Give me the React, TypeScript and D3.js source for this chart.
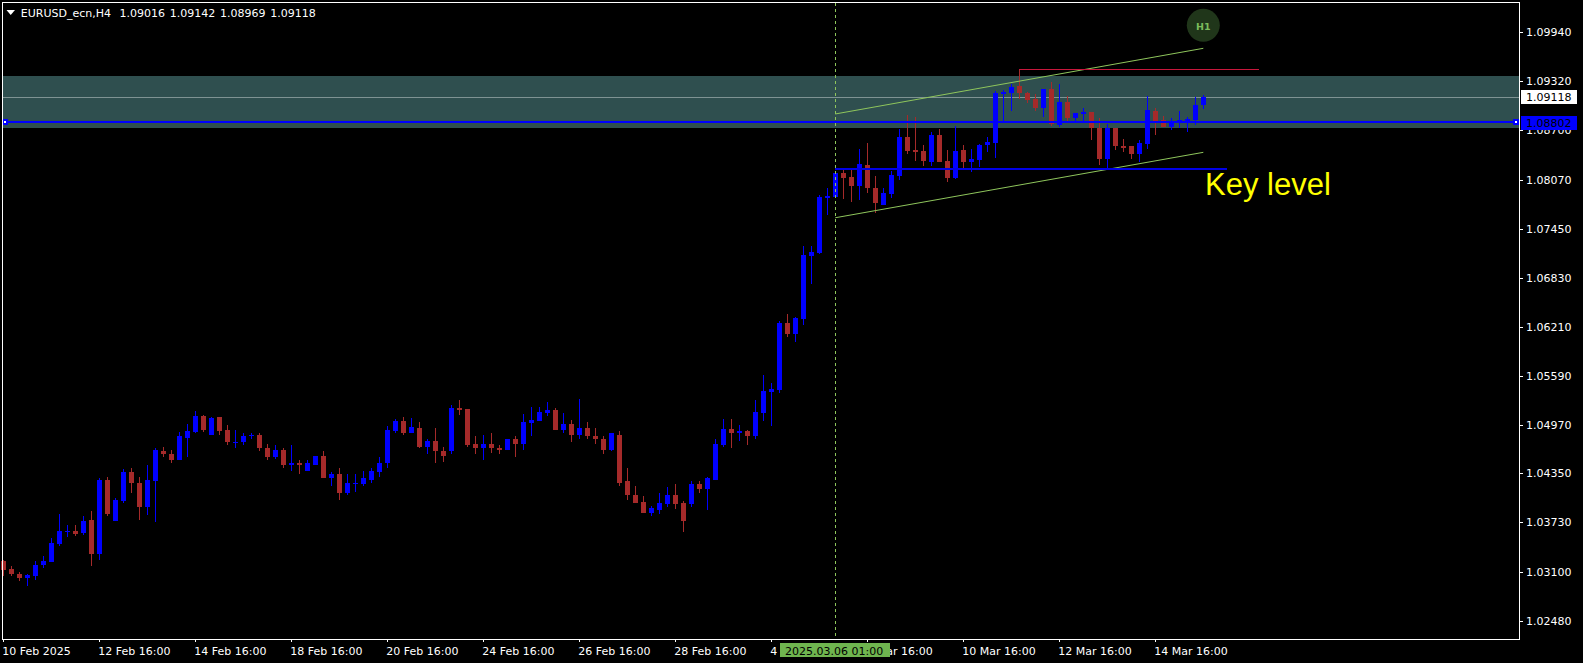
import React, { useEffect, useRef } from 'react';
import * as d3 from 'd3';

const opens = [
  1.03235,1.03134,1.03071,1.03020,1.03046,1.03185,1.03223,1.03451,1.03602,1.03615,
  1.03590,1.03754,1.03324,1.04273,1.03742,1.03995,1.04362,1.04235,1.03919,1.04248,
  1.04640,1.04602,1.04526,1.04805,1.04881,1.05083,1.04843,1.05071,1.04906,1.04742,
  1.04742,1.04818,1.04843,1.04678,1.04552,1.04653,1.04451,1.04476,1.04387,1.04463,
  1.04577,1.04286,1.04349,1.04096,1.04210,1.04210,1.04273,1.04362,1.04476,1.04893,
  1.05020,1.04868,1.04931,1.04691,1.04767,1.04640,1.04640,1.05185,1.05172,1.04729,
  1.04666,1.04729,1.04678,1.04653,1.04780,1.04729,1.04995,1.05020,1.05121,1.05159,
  1.04906,1.04982,1.04843,1.04931,1.04830,1.04792,1.04653,1.04843,1.04248,1.04083,
  1.03982,1.03843,1.03881,1.03957,1.04083,1.03970,1.03957,1.04210,1.04147,1.04273,
  1.04716,1.04919,1.04856,1.04893,1.04830,1.05121,1.05387,1.05412,1.06260,1.06121,
  1.06311,1.07109,1.07147,1.07843,1.07855,1.08159,1.08109,1.07995,1.08260,1.07969,
  1.07754,1.07893,1.08121,1.08615,1.08450,1.08438,1.08298,1.08640,1.08311,1.08096,
  1.08450,1.08298,1.08324,1.08514,1.08539,1.09159,1.09172,1.09260,1.09172,1.09096,
  1.08982,1.09222,1.08767,1.09058,1.08855,1.08906,1.08931,1.08729,1.08336,1.08729,
  1.08501,1.08501,1.08400,1.08526,1.08944,1.08830,1.08741,1.08805,1.08805,1.08830,
  1.09016,
];
const highs = [
  1.03248,1.03172,1.03096,1.03071,1.03235,1.03299,1.03527,1.03830,1.03695,1.03691,
  1.03805,1.03868,1.04286,1.04311,1.04033,1.04400,1.04413,1.04299,1.04463,1.04678,
  1.04691,1.04653,1.04881,1.04982,1.05147,1.05096,1.05071,1.05071,1.04969,1.04906,
  1.04856,1.04856,1.04868,1.04729,1.04704,1.04678,1.04704,1.04514,1.04514,1.04577,
  1.04628,1.04362,1.04425,1.04337,1.04337,1.04387,1.04425,1.04564,1.04957,1.05045,
  1.05071,1.05058,1.05007,1.04792,1.04931,1.04691,1.05223,1.05286,1.05172,1.04818,
  1.04843,1.04868,1.04704,1.04792,1.04818,1.05109,1.05197,1.05197,1.05261,1.05185,
  1.05121,1.05033,1.05299,1.05007,1.04931,1.04818,1.04856,1.04893,1.04425,1.04185,
  1.04058,1.03932,1.04096,1.04172,1.04210,1.03995,1.04248,1.04248,1.04299,1.04780,
  1.05045,1.05045,1.04969,1.04906,1.05286,1.05602,1.05501,1.06286,1.06374,1.06336,
  1.07235,1.07235,1.07881,1.07969,1.08159,1.08197,1.08197,1.08463,1.08539,1.08121,
  1.07969,1.08184,1.08716,1.08893,1.08868,1.08514,1.08678,1.08716,1.08450,1.08754,
  1.08514,1.08463,1.08526,1.08615,1.09197,1.09210,1.09286,1.09463,1.09184,1.09159,
  1.09222,1.09311,1.09286,1.09134,1.08919,1.08982,1.08931,1.08855,1.08779,1.08729,
  1.08590,1.08501,1.08577,1.09134,1.08982,1.08881,1.08855,1.08944,1.08868,1.09121,
  1.09142,
];
const lows = [
  1.03050,1.03050,1.02982,1.02919,1.02995,1.03147,1.03223,1.03425,1.03539,1.03552,
  1.03565,1.03172,1.03248,1.03805,1.03742,1.03970,1.04096,1.03754,1.03818,1.03729,
  1.04552,1.04476,1.04514,1.04564,1.04868,1.04881,1.04843,1.04843,1.04704,1.04666,
  1.04716,1.04792,1.04628,1.04526,1.04539,1.04413,1.04387,1.04349,1.04387,1.04451,
  1.04286,1.04185,1.04007,1.04083,1.04121,1.04197,1.04235,1.04311,1.04413,1.04856,
  1.04843,1.04856,1.04666,1.04590,1.04488,1.04501,1.04602,1.05096,1.04691,1.04602,
  1.04526,1.04615,1.04590,1.04653,1.04564,1.04653,1.04830,1.05020,1.05083,1.04906,
  1.04868,1.04742,1.04792,1.04780,1.04729,1.04590,1.04640,1.04197,1.04007,1.03970,
  1.03843,1.03805,1.03830,1.03919,1.03894,1.03602,1.03919,1.04096,1.03881,1.04273,
  1.04691,1.04666,1.04767,1.04704,1.04792,1.05020,1.04957,1.05374,1.06083,1.06020,
  1.06235,1.06754,1.07134,1.07628,1.07855,1.07830,1.07792,1.07817,1.07906,1.07653,
  1.07754,1.07843,1.08071,1.08400,1.08311,1.08248,1.08248,1.08298,1.08045,1.08083,
  1.08222,1.08172,1.08235,1.08425,1.08349,1.08817,1.08944,1.09096,1.09045,1.08944,
  1.08868,1.08754,1.08741,1.08805,1.08805,1.08805,1.08577,1.08260,1.08210,1.08450,
  1.08425,1.08336,1.08298,1.08463,1.08640,1.08741,1.08703,1.08729,1.08678,1.08767,
  1.08969,
];
const closes = [
  1.03121,1.03071,1.03020,1.03058,1.03185,1.03235,1.03463,1.03615,1.03615,1.03577,
  1.03742,1.03324,1.04273,1.03830,1.04007,1.04362,1.04223,1.03919,1.04261,1.04653,
  1.04590,1.04526,1.04818,1.04893,1.05083,1.04906,1.05058,1.04893,1.04742,1.04754,
  1.04830,1.04839,1.04666,1.04552,1.04653,1.04451,1.04476,1.04451,1.04476,1.04577,
  1.04286,1.04349,1.04096,1.04235,1.04223,1.04286,1.04375,1.04488,1.04906,1.05020,
  1.04868,1.04944,1.04691,1.04767,1.04628,1.04577,1.05185,1.05159,1.04716,1.04666,
  1.04729,1.04666,1.04653,1.04780,1.04729,1.05007,1.05033,1.05134,1.05159,1.04906,
  1.04982,1.04843,1.04931,1.04830,1.04780,1.04653,1.04856,1.04235,1.04071,1.03970,
  1.03843,1.03906,1.03970,1.04083,1.03957,1.03742,1.04210,1.04147,1.04286,1.04729,
  1.04919,1.04856,1.04893,1.04830,1.05134,1.05400,1.05425,1.06260,1.06121,1.06324,
  1.07121,1.07159,1.07855,1.07868,1.08159,1.08096,1.07995,1.08273,1.07969,1.07779,
  1.07906,1.08134,1.08615,1.08438,1.08425,1.08311,1.08640,1.08298,1.08096,1.08438,
  1.08298,1.08336,1.08514,1.08552,1.09172,1.09184,1.09248,1.09172,1.09083,1.08982,
  1.09222,1.08779,1.09058,1.08855,1.08919,1.08931,1.08729,1.08336,1.08729,1.08501,
  1.08476,1.08400,1.08539,1.08957,1.08817,1.08741,1.08817,1.08830,1.08843,1.09020,
  1.09118,
];

const priceTicks = [1.0994, 1.0932, 1.087, 1.0807, 1.0745, 1.0683, 1.0621, 1.0559, 1.0497, 1.0435, 1.0373, 1.031, 1.0248];
const timeTickBars = [0, 12, 24, 36, 48, 60, 72, 84, 96, 108, 120, 132, 144];
const timeLabels = ['10 Feb 2025', '12 Feb 16:00', '14 Feb 16:00', '18 Feb 16:00', '20 Feb 16:00', '24 Feb 16:00', '26 Feb 16:00', '28 Feb 16:00', '4 Mar 16:00', '6 Mar 16:00', '10 Mar 16:00', '12 Mar 16:00', '14 Mar 16:00'];

const headerValues = ['1.09016', '1.09142', '1.08969', '1.09118'];
const zonePrices = [1.09386, 1.08727];
const bidPrice = 1.09118;
const supportPrice = 1.08802;
const resistancePrice = 1.09471;
const keyLevelPrice = 1.08212;
const upperChannel = [[104, 1.08905], [150, 1.09737]];
const lowerChannel = [[104, 1.0759], [150, 1.08419]];
const crosshairBar = 104;

const W = 1583;
const H = 663;
const FONT = '"DejaVu Sans", sans-serif';

const App = () => {
  const ref = useRef<SVGSVGElement | null>(null);

  useEffect(() => {
    const svg = d3.select(ref.current);
    svg.selectAll('*').remove();

    const x = d3.scaleLinear().domain([0, 150]).range([3.3, 1203.3]);
    const y = d3.scaleLinear().domain([1.0994, 1.0248]).range([32.3, 621]);
    const line = d3.line<number[]>().x(d => x(d[0])).y(d => y(d[1]));

    svg.append('rect').attr('width', W).attr('height', H).attr('fill', '#000');

    // zone and bid line sit behind the candles
    const zoneTop = Math.round(y(zonePrices[0]));
    svg.append('rect')
      .attr('x', 3).attr('y', zoneTop)
      .attr('width', 1516).attr('height', Math.round(y(zonePrices[1])) - zoneTop)
      .attr('fill', '#2f4f4f');
    svg.append('rect')
      .attr('x', 3).attr('y', Math.floor(y(bidPrice)))
      .attr('width', 1516).attr('height', 1)
      .attr('fill', '#7f9393');

    const candles = svg.append('g').attr('shape-rendering', 'crispEdges');
    opens.forEach((open, i) => {
      const close = closes[i];
      const color = close >= open ? '#0000ff' : '#a52a2a';
      const cx = Math.floor(x(i));
      const bodyTop = Math.round(y(Math.max(open, close)));
      const bodyBottom = Math.round(y(Math.min(open, close)));
      const wickTop = Math.round(y(highs[i]));
      const wickBottom = Math.round(y(lows[i]));
      candles.append('rect')
        .attr('x', cx).attr('y', wickTop)
        .attr('width', 1).attr('height', Math.max(1, wickBottom - wickTop))
        .attr('fill', color);
      candles.append('rect')
        .attr('x', cx - 2).attr('y', bodyTop)
        .attr('width', 5).attr('height', Math.max(1, bodyBottom - bodyTop))
        .attr('fill', color);
    });

    // channel lines
    [upperChannel, lowerChannel].forEach(pts => {
      svg.append('path')
        .attr('d', line(pts))
        .attr('fill', 'none')
        .attr('stroke', '#8fc65c')
        .attr('stroke-width', 1);
    });

    // horizontal levels
    svg.append('rect')
      .attr('x', Math.floor(x(127))).attr('y', Math.floor(y(resistancePrice)))
      .attr('width', 240).attr('height', 1)
      .attr('fill', '#c8173c');
    svg.append('rect')
      .attr('x', Math.floor(x(104))).attr('y', Math.round(y(keyLevelPrice)) - 1)
      .attr('width', 392).attr('height', 2)
      .attr('fill', '#0000e6');
    const supportY = Math.round(y(supportPrice));
    svg.append('rect')
      .attr('x', 3).attr('y', supportY - 1)
      .attr('width', 1516).attr('height', 2)
      .attr('fill', '#0000ff');

    // anchor handles on the support line
    [2, 1513].forEach(hx => {
      svg.append('rect').attr('x', hx).attr('y', supportY - 3).attr('width', 6).attr('height', 6).attr('fill', '#0000ff');
      svg.append('rect').attr('x', hx + 2).attr('y', supportY - 1).attr('width', 2).attr('height', 2).attr('fill', '#fff');
    });

    // crosshair
    svg.append('line')
      .attr('x1', Math.floor(x(crosshairBar)) + 0.5).attr('x2', Math.floor(x(crosshairBar)) + 0.5)
      .attr('y1', 3).attr('y2', 637)
      .attr('stroke', '#8fc65c')
      .attr('stroke-dasharray', '3 3');

    // H1 badge
    svg.append('circle').attr('cx', 1203.3).attr('cy', 25.3).attr('r', 16.5).attr('fill', '#20361a');
    svg.append('text')
      .attr('x', 1203.3).attr('y', 29.5)
      .attr('text-anchor', 'middle')
      .attr('font-family', FONT).attr('font-size', 9.5).attr('font-weight', 'bold')
      .attr('fill', '#7cbc5c')
      .text('H1');

    svg.append('text')
      .attr('x', 1205).attr('y', 195)
      .attr('font-family', '"Liberation Sans", Arial, sans-serif').attr('font-size', 31)
      .attr('fill', '#ffff00')
      .text('Key level');

    // frame
    svg.append('rect')
      .attr('x', 2.5).attr('y', 2.5)
      .attr('width', 1517).attr('height', 637)
      .attr('fill', 'none').attr('stroke', '#fff').attr('stroke-width', 1)
      .attr('shape-rendering', 'crispEdges');

    // price axis
    const yAxis = d3.axisRight(y)
      .tickValues(priceTicks)
      .tickSize(3)
      .tickPadding(3)
      .tickFormat(d => (d as number).toFixed(5));
    const yg = svg.append('g').attr('transform', 'translate(1520,0)').call(yAxis);
    yg.select('.domain').remove();
    yg.selectAll('line').attr('stroke', '#fff').attr('shape-rendering', 'crispEdges');
    yg.selectAll('text').attr('fill', '#fff').attr('font-family', FONT).attr('font-size', 11);

    // time axis
    const xAxis = d3.axisBottom(x)
      .tickValues(timeTickBars)
      .tickSize(3)
      .tickPadding(5)
      .tickFormat((_, i) => timeLabels[i]);
    const xg = svg.append('g').attr('transform', 'translate(0,639)').call(xAxis);
    xg.select('.domain').remove();
    xg.selectAll('line').attr('stroke', '#fff').attr('shape-rendering', 'crispEdges');
    xg.selectAll('text')
      .attr('fill', '#fff').attr('font-family', FONT).attr('font-size', 11)
      .attr('text-anchor', 'start').attr('x', -1.5);

    // header
    svg.append('path').attr('d', 'M6.5 10 L15 10 L10.7 15 Z').attr('fill', '#fff');
    svg.append('text')
      .attr('x', 20.8).attr('y', 17)
      .attr('fill', '#fff').attr('font-family', FONT).attr('font-size', 11)
      .text('EURUSD_ecn,H4');
    headerValues.forEach((v, i) => {
      svg.append('text')
        .attr('x', 119.6 + i * 50.2).attr('y', 17)
        .attr('fill', '#fff').attr('font-family', FONT).attr('font-size', 11)
        .text(v);
    });

    // price tags
    const tag = (price: number, fill: string, top: number) => {
      svg.append('rect').attr('x', 1521).attr('y', top).attr('width', 56).attr('height', 14).attr('fill', fill);
      svg.append('text')
        .attr('x', 1526).attr('y', top + 11)
        .attr('fill', '#000').attr('font-family', FONT).attr('font-size', 11)
        .text(price.toFixed(5));
    };
    tag(bidPrice, '#fff', 90);
    tag(supportPrice, '#0000ff', 116);

    // crosshair time label
    svg.append('rect').attr('x', 780).attr('y', 643).attr('width', 110).attr('height', 14).attr('fill', '#6fb54f');
    svg.append('text')
      .attr('x', 785).attr('y', 654.5)
      .attr('fill', '#000').attr('font-family', FONT).attr('font-size', 11)
      .text('2025.03.06 01:00');
  }, []);

  return (
    <svg
      ref={ref}
      width={W}
      height={H}
      style={{ position: 'fixed', left: 0, top: 0, display: 'block' }}
    />
  );
};

export default App;
